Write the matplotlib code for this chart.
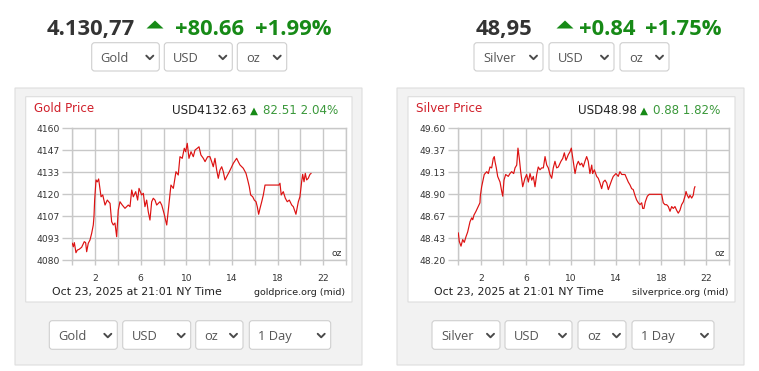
import numpy as np
import matplotlib.pyplot as plt
from matplotlib.patches import FancyBboxPatch, Rectangle, Polygon

W, H = 759, 371

# 1 day of mid prices, hours since midnight NY time
gold_hours = [0.00, 0.09, 0.18, 0.32, 0.44, 0.61, 0.82, 1.05, 1.17, 1.26, 1.40, 1.55, 1.70, 1.84, 1.90,
              1.96, 2.08, 2.19, 2.31, 2.52, 2.67, 2.87, 3.07, 3.31, 3.45, 3.59, 3.74, 3.89, 4.03, 4.18,
              4.38, 4.62, 4.91, 5.06, 5.21, 5.35, 5.56, 5.73, 5.85, 6.08, 6.23, 6.37, 6.52, 6.66, 6.81,
              6.96, 7.10, 7.25, 7.40, 7.54, 7.69, 7.84, 8.04, 8.28, 8.42, 8.65, 8.86, 9.09, 9.29, 9.44,
              9.64, 9.82, 9.94, 10.08, 10.23, 10.41, 10.61, 10.76, 10.96, 11.11, 11.28, 11.49, 11.64,
              11.87, 12.07, 12.22, 12.36, 12.51, 12.66, 12.80, 12.95, 13.10, 13.24, 13.39, 13.54, 13.77,
              13.98, 14.12, 14.41, 14.55, 14.70, 14.99, 15.23, 15.38, 15.52, 15.64, 15.82, 15.96, 16.11,
              16.22, 16.34, 16.46, 16.61, 16.75, 16.90, 18.12, 18.21, 18.32, 18.50, 18.68, 18.85, 19.03,
              19.24, 19.38, 19.61, 19.82, 19.96, 20.11, 20.20, 20.32, 20.43, 20.55, 20.69, 20.84, 20.93]
gold_price = [4090.3, 4088.2, 4090.7, 4084.6, 4086.2, 4086.7, 4087.9, 4091.3, 4090.7, 4085.2, 4090.3,
              4092.3, 4096.4, 4101.4, 4106.4, 4116.5, 4128.7, 4127.5, 4129.3, 4118.5, 4119.6, 4113.5,
              4116.5, 4114.5, 4103.4, 4101.4, 4102.6, 4094.3, 4110.5, 4115.5, 4113.5, 4111.5, 4113.5,
              4112.5, 4122.6, 4118.5, 4121.6, 4116.5, 4123.6, 4119.6, 4120.6, 4112.5, 4116.5, 4109.5,
              4104.4, 4115.5, 4117.6, 4116.5, 4113.5, 4114.5, 4115.5, 4113.5, 4108.5, 4101.4, 4110.5,
              4125.6, 4123.6, 4133.7, 4131.7, 4142.8, 4141.8, 4147.9, 4145.8, 4150.9, 4141.8, 4145.8,
              4142.8, 4146.8, 4147.9, 4148.8, 4143.8, 4141.8, 4139.8, 4142.8, 4142.8, 4139.8, 4136.7,
              4141.8, 4134.7, 4129.7, 4134.7, 4136.7, 4133.7, 4128.7, 4130.7, 4133.7, 4136.7, 4138.8,
              4141.8, 4139.8, 4137.8, 4135.8, 4132.7, 4128.7, 4124.6, 4119.6, 4118.5, 4116.5, 4115.5,
              4112.5, 4107.9, 4111.5, 4115.5, 4119.6, 4125.6, 4125.6, 4126.7, 4119.6, 4121.6, 4117.6,
              4115.5, 4116.5, 4113.5, 4112.5, 4107.9, 4115.5, 4118.5, 4127.6, 4132.1, 4127.6, 4132.7,
              4128.7, 4129.7, 4132.1, 4132.6]

silver_hours = [0.00, 0.09, 0.24, 0.39, 0.53, 0.68, 0.83, 1.04, 1.19, 1.28, 1.39, 1.57, 1.77, 1.92, 1.95,
                2.07, 2.30, 2.52, 2.66, 2.81, 2.96, 3.10, 3.19, 3.25, 3.37, 3.49, 3.70, 3.85, 3.94, 4.05,
                4.20, 4.43, 4.58, 4.73, 4.91, 5.03, 5.18, 5.29, 5.41, 5.53, 5.71, 5.91, 6.06, 6.21, 6.36,
                6.51, 6.65, 6.80, 6.95, 7.09, 7.24, 7.39, 7.54, 7.69, 7.84, 7.98, 8.13, 8.28, 8.42, 8.57,
                8.72, 8.87, 9.10, 9.26, 9.40, 9.55, 9.75, 9.90, 10.02, 10.19, 10.35, 10.50, 10.64, 10.79,
                10.94, 11.08, 11.23, 11.38, 11.52, 11.67, 11.83, 11.91, 12.06, 12.27, 12.41, 12.56, 12.71,
                12.85, 13.01, 13.16, 13.30, 13.45, 13.60, 13.74, 13.98, 14.18, 14.33, 14.49, 14.78, 14.93,
                15.07, 15.22, 15.37, 15.51, 15.66, 15.81, 15.96, 16.11, 16.26, 16.35, 16.46, 16.58, 16.76,
                16.93, 18.03, 18.17, 18.32, 18.47, 18.62, 18.77, 18.92, 19.06, 19.21, 19.36, 19.50, 19.65,
                19.80, 19.95, 20.10, 20.19, 20.30, 20.43, 20.54, 20.69, 20.83, 20.92, 20.98]
silver_price = [48.49, 48.40, 48.35, 48.42, 48.39, 48.45, 48.50, 48.61, 48.65, 48.63, 48.68, 48.72, 48.77,
                48.81, 48.88, 48.98, 49.11, 49.14, 49.12, 49.19, 49.18, 49.28, 49.30, 49.25, 49.18, 49.09,
                49.03, 48.93, 48.88, 49.05, 49.11, 49.09, 49.12, 49.14, 49.12, 49.18, 49.21, 49.39, 49.28,
                49.14, 48.98, 49.07, 49.11, 49.03, 49.12, 49.05, 49.09, 48.98, 49.11, 49.19, 49.16, 49.18,
                49.18, 49.30, 49.21, 49.18, 49.11, 49.07, 49.18, 49.25, 49.18, 49.19, 49.25, 49.28, 49.34,
                49.26, 49.32, 49.35, 49.39, 49.25, 49.12, 49.21, 49.25, 49.21, 49.23, 49.19, 49.25, 49.30,
                49.25, 49.12, 49.21, 49.12, 49.16, 49.09, 49.07, 49.02, 48.96, 49.03, 49.05, 49.02, 48.95,
                49.00, 49.05, 49.09, 49.12, 49.09, 49.14, 49.11, 49.11, 49.07, 49.03, 49.00, 48.96, 48.95,
                48.89, 48.84, 48.81, 48.79, 48.81, 48.75, 48.75, 48.82, 48.88, 48.90, 48.90, 48.81, 48.79,
                48.79, 48.77, 48.72, 48.77, 48.75, 48.77, 48.73, 48.70, 48.73, 48.79, 48.82, 48.88, 48.93,
                48.89, 48.86, 48.89, 48.86, 48.89, 48.96, 48.98]

gold_range = (4080, 4160)
silver_range = (48.20, 49.60)
hour_labels = {2: '2', 6: '6', 10: '10', 14: '14', 18: '18', 22: '22'}

gold_header = ['4.130,77', '+80.66', '+1.99%']
silver_header = ['48,95', '+0.84', '+1.75%']
gold_quote = ['USD4132.63', '82.51 2.04%']
silver_quote = ['USD48.98', '0.88 1.82%']
stamp = 'Oct 23, 2025 at 21:01 NY Time'

DARK = '#333333'
GREEN = '#178a17'
LGREEN = '#3a983a'
RED = '#d01f2a'
GRID = '#c8c8c8'
UI = 'Open Sans'
CH = 'DejaVu Sans'

fig = plt.figure(figsize=(W / 100, H / 100), dpi=100)
bg = fig.add_axes([0, 0, 1, 1])
bg.set_xlim(0, W)
bg.set_ylim(H, 0)
bg.axis('off')


def box(x0, y0, x1, y1, fc, ec, r=0.0, z=1):
    bg.add_patch(FancyBboxPatch((x0, y0), x1 - x0, y1 - y0, boxstyle=f'round,pad=0,rounding_size={r}',
                                fc=fc, ec=ec, lw=0.8, zorder=z))


def dropdown(x0, x1, y0, y1, label):
    box(x0, y0, x1, y1, 'white', '#cfcfcf', r=3, z=3)
    cy = (y0 + y1) / 2
    bg.text(x0 + 9, cy + 5.3, label, fontsize=9.3, family=UI, color='#555555', va='baseline', zorder=4)
    cx = x1 - 9.5
    bg.plot([cx - 3.5, cx, cx + 3.5], [cy - 1.2, cy + 2.3, cy - 1.2], color='#4a4a4a', lw=1.4,
            solid_capstyle='round', zorder=4)


def header(xs, texts, tri_x):
    bg.text(xs[0], 35, texts[0], fontsize=15.8, family=UI, weight='bold', color=DARK, va='baseline')
    bg.add_patch(Polygon([[tri_x - 8.5, 28.5], [tri_x + 8.5, 28.5], [tri_x, 20.5]], closed=True,
                         fc=GREEN, ec='none'))
    bg.text(xs[1], 35, texts[1], fontsize=15.8, family=UI, weight='bold', color=GREEN, va='baseline')
    bg.text(xs[2], 35, texts[2], fontsize=15.8, family=UI, weight='bold', color=GREEN, va='baseline')


def panel(outer, inner, plot_px, title, quote, quote_x, source, hours, price, yr, fmt, bottom_boxes):
    box(*outer, '#f2f2f2', '#dddddd', z=1)
    box(*inner, 'white', '#dddddd', z=2)
    x0, y0, x1, y1 = plot_px
    ax = fig.add_axes([x0 / W, 1 - y1 / H, (x1 - x0) / W, (y1 - y0) / H], zorder=5)
    ax.set_facecolor('none')
    ax.plot(hours, price, color='#dd1111', lw=0.85, zorder=3)
    ax.set_xlim(0, 24)
    ax.set_ylim(*yr)
    xt = list(range(0, 25, 2))
    ax.set_xticks(xt)
    ax.set_xticklabels([hour_labels.get(t, '') for t in xt])
    yt = np.linspace(yr[0], yr[1], 7)
    ax.set_yticks(yt)
    ax.set_yticklabels([fmt.format(v) for v in yt])
    ax.grid(True, color=GRID, lw=1)
    for s in ax.spines.values():
        s.set_color(GRID)
        s.set_linewidth(1)
    ax.tick_params(axis='x', length=3.6, width=1, color=GRID, pad=6.0, labelsize=6.6, labelcolor=DARK)
    ax.tick_params(axis='y', length=7.5, width=1, color=GRID, pad=1.7, labelsize=6.6, labelcolor=DARK)
    for lab in ax.get_xticklabels() + ax.get_yticklabels():
        lab.set_family(CH)
    ax.text(0.985, 0.02, 'oz', transform=ax.transAxes, ha='right', va='bottom', fontsize=6.6,
            family=CH, color=DARK)

    ix0 = inner[0]
    bg.text(ix0 + 8.5, 112.3, title, fontsize=8.6, family=CH, color=RED, va='baseline', zorder=6)
    bg.text(quote_x, 114, quote[0], fontsize=8.6, family=CH, color='#222222', ha='right',
            va='baseline', zorder=6)
    bg.text(quote_x + 7, 114, '\u25b2', fontsize=7.5, family=CH, color=GREEN, ha='center',
            va='baseline', zorder=6)
    bg.text(quote_x + 16, 114, quote[1], fontsize=8.6, family=CH, color=LGREEN, va='baseline', zorder=6)
    bg.text(ix0 + 26.5, 295, stamp, fontsize=7.9, family=CH, color='#222222', va='baseline', zorder=6)
    bg.text(x1 - 1, 295, source, fontsize=6.8, family=CH, color='#222222', ha='right',
            va='baseline', zorder=6)
    for bx0, bx1, lab in bottom_boxes:
        dropdown(bx0, bx1, 320.7, 349.3, lab)


# gold side
header([46.5, 175.5, 255], gold_header, 155)
for bx0, bx1, lab in [(91.7, 159.3, 'Gold'), (164.3, 232.3, 'USD'), (237.3, 286.7, 'oz')]:
    dropdown(bx0, bx1, 42.7, 71, lab)
panel((15, 88, 362, 365), (25.7, 96.7, 352, 302), (72.3, 128.3, 346, 260.3),
      'Gold Price', gold_quote, 246.7, 'goldprice.org (mid)', gold_hours, gold_price, gold_range, '{:.0f}',
      [(49.3, 117.3, 'Gold'), (122.7, 190.7, 'USD'), (195.7, 243, 'oz'), (249.3, 330.7, '1 Day')])

# silver side
header([476, 579, 645], silver_header, 565)
for bx0, bx1, lab in [(474, 543, 'Silver'), (549, 614, 'USD'), (620, 669, 'oz')]:
    dropdown(bx0, bx1, 42.7, 71, lab)
panel((397, 88, 744, 365), (408, 96.7, 735, 302), (458.3, 128.3, 729, 260.3),
      'Silver Price', silver_quote, 637.3, 'silverprice.org (mid)', silver_hours, silver_price, silver_range,
      '{:.2f}',
      [(432, 500, 'Silver'), (505, 572, 'USD'), (578, 626, 'oz'), (632, 714, '1 Day')])

fig.savefig('out.png', dpi=100)
